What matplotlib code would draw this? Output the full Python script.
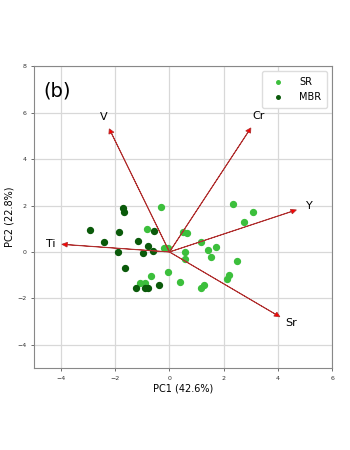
import numpy as np
import matplotlib
matplotlib.use('Agg')
from matplotlib import pyplot as plt

# PCA scores
sr_pc1 = [-0.31, -0.82, -0.22, -0.07, 0.50, 0.65, 0.59, 0.59, 1.17, 1.42, 1.71, 1.52, 2.34,
          2.75, 3.07, 2.48, 2.21, 2.11, 1.18, 1.28, 0.40, -0.04, -0.67, -1.09, -0.91]
sr_pc2 = [1.93, 0.98, 0.19, 0.17, 0.84, 0.81, -0.01, -0.32, 0.42, 0.07, 0.23, -0.23, 2.07,
          1.28, 1.70, -0.37, -0.98, -1.18, -1.55, -1.44, -1.28, -0.87, -1.04, -1.35, -1.32]
mbr_pc1 = [-2.93, -2.40, -1.72, -1.69, -1.88, -1.89, -1.63, -1.18, -0.80, -0.99, -0.56, -0.60,
           -1.25, -0.91, -0.79, -0.40]
mbr_pc2 = [0.95, 0.42, 1.89, 1.70, 0.88, 0.01, -0.69, 0.49, 0.26, -0.03, 0.91, 0.04,
           -1.54, -1.55, -1.54, -1.44]

# loadings
elements = ['V', 'Cr', 'Y', 'Sr', 'Ti']
load_pc1 = [-2.22, 3.00, 4.68, 4.07, -3.97]
load_pc2 = [5.30, 5.34, 1.81, -2.79, 0.33]

fig = plt.figure(figsize=(3.5, 4.5), dpi=100)
ax = fig.add_axes([0.097, 0.182, 0.852, 0.671])

ax.scatter(sr_pc1, sr_pc2, s=18, color='#3cbf3c', label='SR', zorder=3)
ax.scatter(mbr_pc1, mbr_pc2, s=18, color='#0a5a0a', label='MBR', zorder=3)

for name, x, y in zip(elements, load_pc1, load_pc2):
    ax.arrow(0, 0, x, y, width=0.012, head_width=0.2, head_length=0.2,
             length_includes_head=True, facecolor='red', edgecolor='#b03030',
             linewidth=0.6, zorder=4)
    ax.text(x * 1.1, y * 1.1, name, fontsize=8, ha='center', va='center')

ax.set_xlim(-5, 6)
ax.set_ylim(-5, 8)
ax.set_xticks([-4, -2, 0, 2, 4, 6])
ax.set_yticks([-4, -2, 0, 2, 4, 6, 8])
ax.tick_params(labelsize=4.5, length=2, width=0.5, colors='#333333')
ax.grid(True, color='#d8d8d8', linewidth=0.9)
ax.set_axisbelow(True)
for sp in ax.spines.values():
    sp.set_color('#888888')
    sp.set_linewidth(0.8)

ax.set_xlabel('PC1 (42.6%)', fontsize=7, labelpad=2)
ax.set_ylabel('PC2 (22.8%)', fontsize=7, labelpad=2)
ax.text(0.03, 0.9, '(b)', transform=ax.transAxes, fontsize=14)
ax.legend(loc='upper right', fontsize=7, markerscale=0.6, handletextpad=1.2,
          borderpad=0.6, framealpha=1, edgecolor='#dddddd')

plt.savefig('out.png', dpi=100)
